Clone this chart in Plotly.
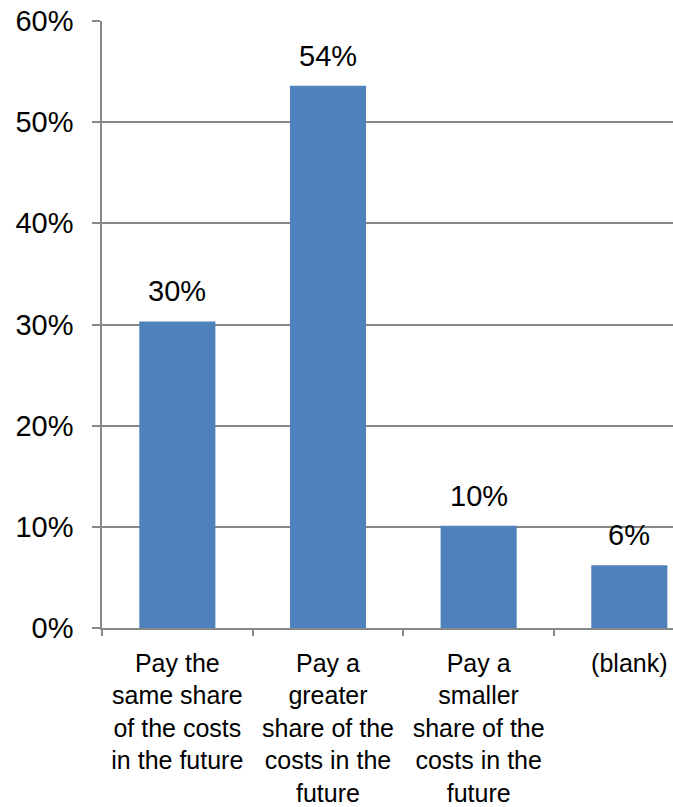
import plotly.graph_objects as go

# Survey responses: expected share of costs
categories = [
    "Pay the<br>same share<br>of the costs<br>in the future",
    "Pay a<br>greater<br>share of the<br>costs in the<br>future",
    "Pay a<br>smaller<br>share of the<br>costs in the<br>future",
    "(blank)",
]
shares = [0.303, 0.536, 0.101, 0.062]
y_ticks = [0, 0.1, 0.2, 0.3, 0.4, 0.5, 0.6]
y_tick_labels = ["0%", "10%", "20%", "30%", "40%", "50%", "60%"]

FONT = "Liberation Sans, Arial, sans-serif"
GRID = "#888888"
BAR = "#4F81BD"

fig = go.Figure(
    go.Bar(
        x=categories,
        y=shares,
        marker=dict(color=BAR, line=dict(width=0)),
        hoverinfo="skip",
    )
)

# value labels above each bar
for cat, val in zip(categories, shares):
    fig.add_annotation(
        x=cat, y=val, text=f"{val:.0%}",
        showarrow=False, yanchor="bottom", yshift=12,
        font=dict(family=FONT, size=29, color="black"),
    )

fig.update_layout(
    width=673,
    height=807,
    margin=dict(l=102, r=0, t=21, b=179),
    paper_bgcolor="white",
    plot_bgcolor="white",
    showlegend=False,
    bargap=0.495,
    font=dict(family=FONT, color="black"),
)

fig.update_xaxes(
    type="category",
    range=[-0.5, 3.29],
    automargin=False,
    showline=True, linecolor=GRID, linewidth=1.5,
    ticks="outside", tickson="boundaries", ticklen=6, tickcolor=GRID, tickwidth=1.5,
    showgrid=False,
    tickfont=dict(family=FONT, size=25, color="black"),
    ticklabelstandoff=12,
)

fig.update_yaxes(
    range=[0, 0.6],
    tickvals=y_ticks,
    ticktext=y_tick_labels,
    automargin=False,
    showline=True, linecolor=GRID, linewidth=1.5,
    ticks="outside", ticklen=8, tickcolor=GRID, tickwidth=1.5,
    showgrid=True, gridcolor=GRID, gridwidth=1.5,
    zeroline=False,
    tickfont=dict(family=FONT, size=29, color="black"),
    ticklabelstandoff=13,
)

fig.write_html("out.html")
